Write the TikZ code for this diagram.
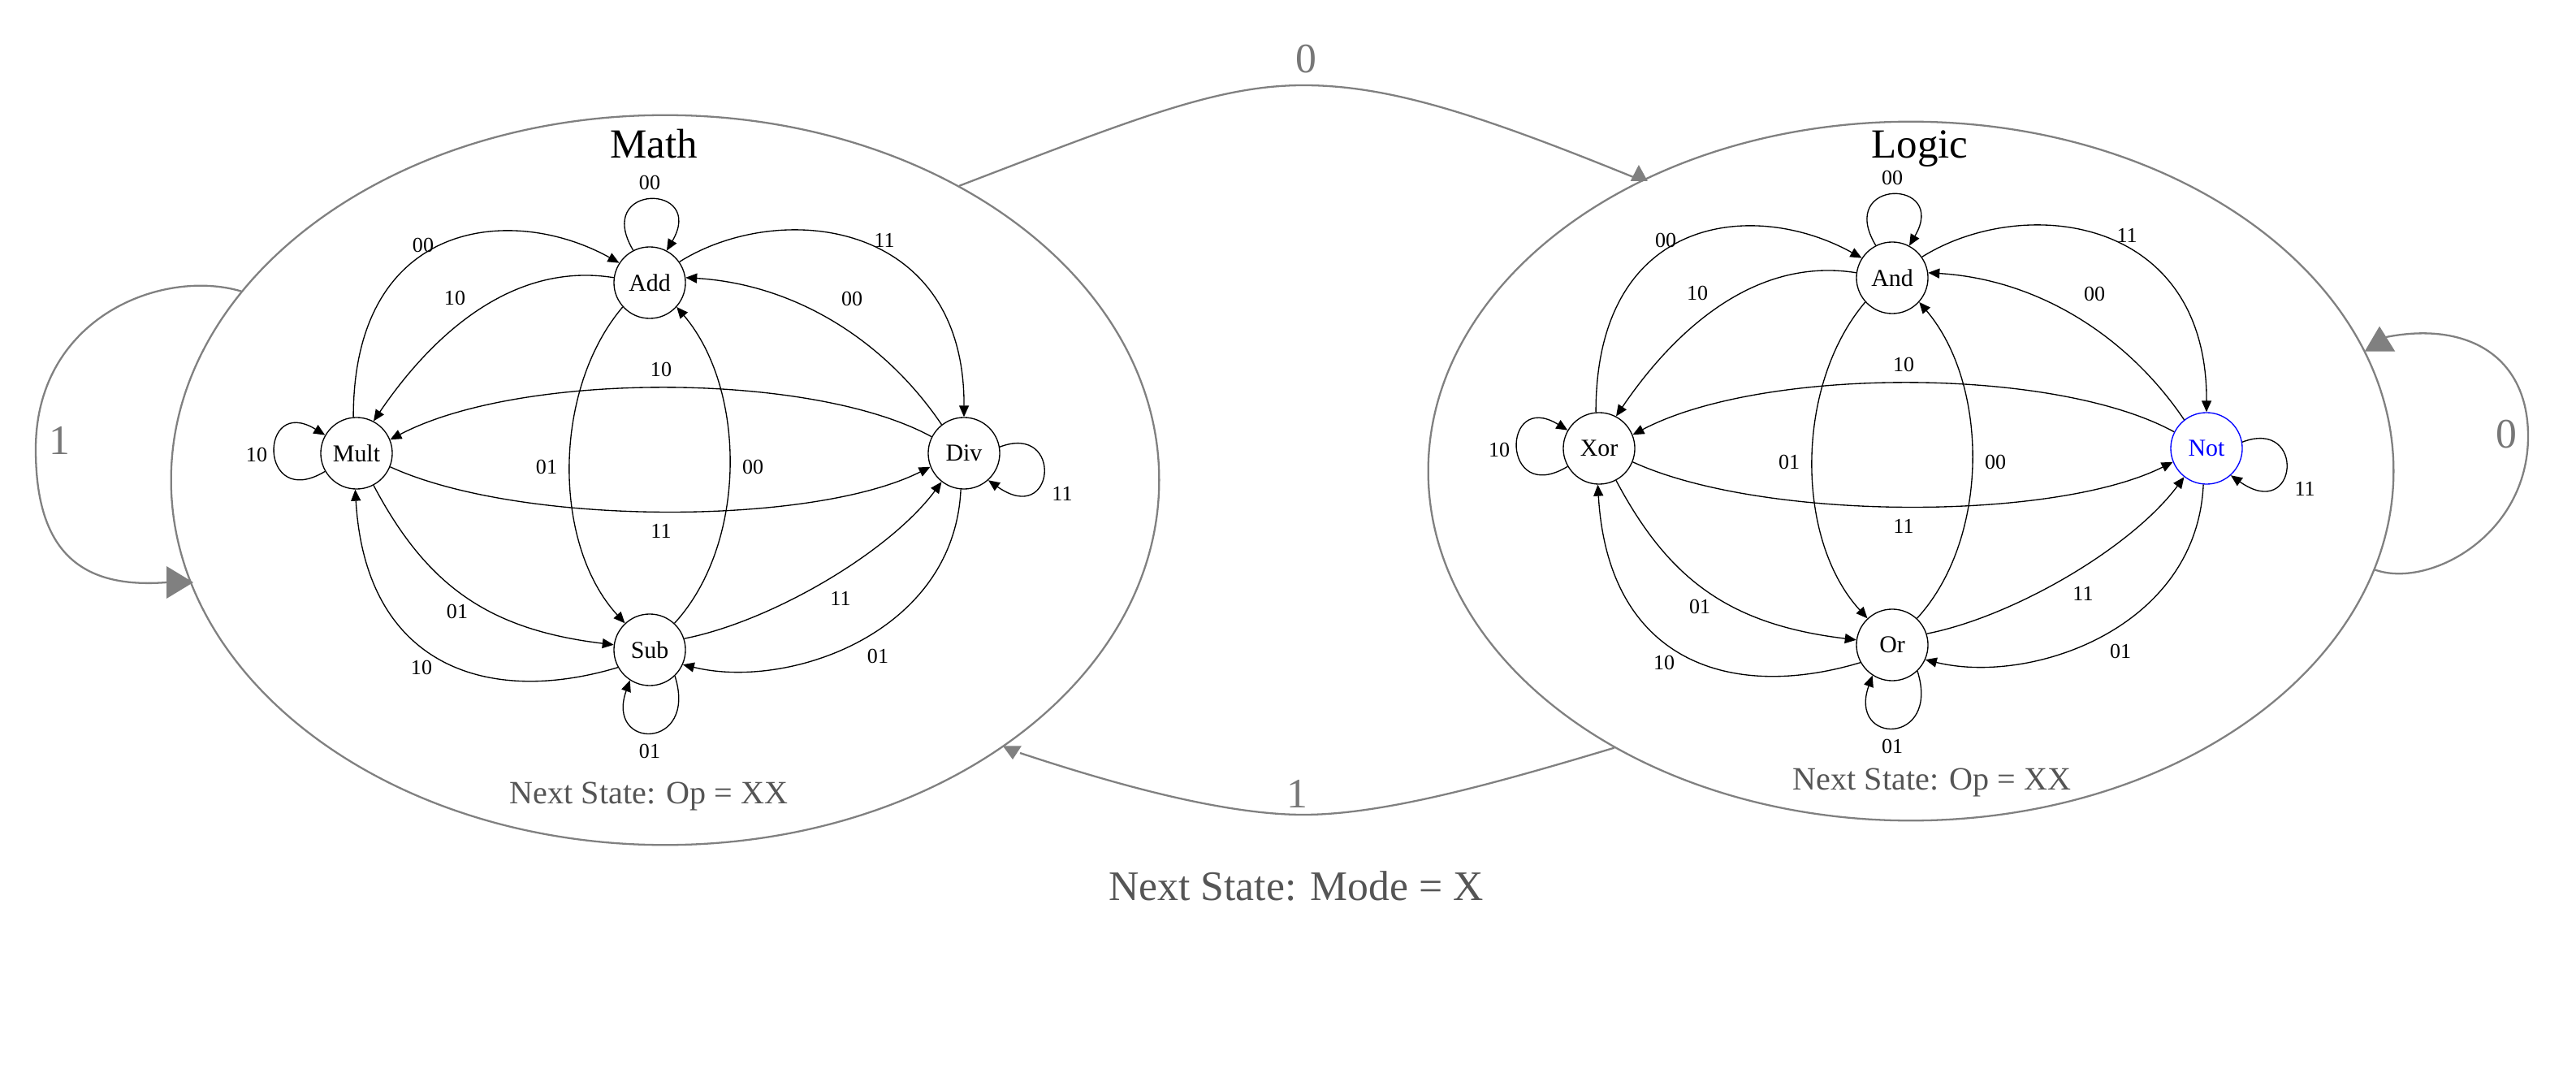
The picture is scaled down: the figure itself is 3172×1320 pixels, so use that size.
\documentclass[tikz,border=0pt]{standalone}
\usepackage{fontspec}
\setmainfont{Liberation Serif}
\usetikzlibrary{arrows.meta,shapes.geometric}
\definecolor{outergray}{HTML}{808080}
\definecolor{txtgray}{HTML}{555555}
\definecolor{numgray}{HTML}{777777}
\tikzset{
 fsmstate/.style={circle,draw=black,line width=0.38pt,minimum size=0.88cm,inner sep=0pt,font=\fontsize{8.5}{10}\selectfont},
 fsmedge/.style={draw=black,line width=0.38pt,-{Triangle[length=1.4mm,width=1.2mm]}},
 lbl/.style={inner sep=0pt,font=\fontsize{7.4}{9}\selectfont},
 outerell/.style={ellipse,draw=outergray,line width=0.65pt,inner sep=0pt},
 outerline/.style={draw=outergray,line width=0.65pt},
 tipfill/.style={fill=outergray},
 bignum/.style={text=numgray,inner sep=0pt,font=\fontsize{14.7}{17}\selectfont},
 clustertitle/.style={inner sep=0pt,anchor=base,font=\fontsize{14.5}{17}\selectfont},
 nextop/.style={text=txtgray,inner sep=0pt,anchor=base,font=\fontsize{11.4}{13}\selectfont},
 nextmode/.style={text=txtgray,inner sep=0pt,anchor=base,font=\fontsize{14.7}{17}\selectfont},
}
% #1 prefix, #2 top, #3 left, #4 right, #5 bottom, #6 extra style of right node
\newcommand\clusterfsm[6]{%
  \node[fsmstate] (#1A) at (800,972) {#2};
  \node[fsmstate] (#1M) at (439,762) {#3};
  \node[fsmstate,#6] (#1D) at (1187,762) {#4};
  \node[fsmstate] (#1S) at (800,520) {#5};
  % self loops
  \draw[fsmedge] (#1A.117) .. controls (730,1095) and (870,1095) .. (#1A.62);
  \draw[fsmedge] (#1M.210) .. controls (318,690) and (318,835) .. (#1M.150);
  \draw[fsmedge] (#1D.10) .. controls (1310,800) and (1300,670) .. (#1D.-48);
  \draw[fsmedge] (#1S.-46) .. controls (860,396) and (745,396) .. (#1S.237);
  % edges
  \draw[fsmedge] (#1M.95) .. controls (435,1050) and (630,1070) .. (#1A.147);
  \draw[fsmedge] (#1A.172) .. controls (620,1000) and (520,890) .. (#1M.62);
  \draw[fsmedge] (#1A.35) .. controls (960,1075) and (1188,1050) .. (#1D.90);
  \draw[fsmedge] (#1D.128) .. controls (1090,900) and (980,970) .. (#1A.8);
  \draw[fsmedge] (#1D.153) .. controls (1000,863) and (640,863) .. (#1M.22);
  \draw[fsmedge] (#1M.-22) .. controls (640,672) and (1000,672) .. (#1D.202);
  \draw[fsmedge] (#1A.222) .. controls (680,840) and (680,650) .. (#1S.133);
  \draw[fsmedge] (#1S.47) .. controls (920,650) and (920,840) .. (#1A.-42);
  \draw[fsmedge] (#1M.-62) .. controls (525,600) and (600,545) .. (#1S.172);
  \draw[fsmedge] (#1S.209) .. controls (600,450) and (450,500) .. (#1M.268);
  \draw[fsmedge] (#1S.18) .. controls (950,555) and (1095,640) .. (#1D.232);
  \draw[fsmedge] (#1D.265) .. controls (1175,540) and (970,470) .. (#1S.-24);
  % labels
  \node[lbl] (#1e1) at (800,1095) {00};
  \node[lbl] (#1e2) at (521,1018) {00};
  \node[lbl] (#1e3) at (560,953) {10};
  \node[lbl] (#1e4) at (1089,1024) {11};
  \node[lbl] (#1e5) at (1049,952) {00};
  \node[lbl] (#1e6) at (814,865) {10};
  \node[lbl] (#1e7) at (814,666) {11};
  \node[lbl] (#1e8) at (673,745) {01};
  \node[lbl] (#1e9) at (927,745) {00};
  \node[lbl] (#1e10) at (563,567) {01};
  \node[lbl] (#1e11) at (519,498) {10};
  \node[lbl] (#1e12) at (1035,583) {11};
  \node[lbl] (#1e13) at (1081,512) {01};
  \node[lbl] (#1e14) at (316,760) {10};
  \node[lbl] (#1e15) at (1308,712) {11};
  \node[lbl] (#1e16) at (800,395) {01};
}
\begin{document}
\begin{tikzpicture}[x=0.01cm,y=0.01cm]
\useasboundingbox (0,0) rectangle (3172,1320);
% outer ellipses
\node[outerell,minimum width=12.16cm,minimum height=8.98cm] (math) at (819,729) {};
\node[outerell,minimum width=11.88cm,minimum height=8.6cm] (logic) at (2353,740) {};
% clusters
\begin{scope}
\clusterfsm{m}{Add}{Mult}{Div}{Sub}{}
\end{scope}
\begin{scope}[shift={(1530,6)}]
\clusterfsm{l}{And}{Xor}{Not}{Or}{draw=blue,text=blue}
\end{scope}
% titles
\node[clustertitle] (mtitle) at (805,1125) {Math};
\node[clustertitle] (ltitle) at (2364,1125) {Logic};
\node[nextop] (mnext) at (799,331) {Next State: Op = XX};
\node[nextop] (lnext) at (2379,348) {Next State: Op = XX};
\node[nextmode] (mode) at (1596,212) {Next State: Mode = X};
% outer connectors
\coordinate (ttip) at (2021,1098);
\coordinate (btip) at (1256,393);
\coordinate (lltip) at (205,603);
\coordinate (rltip) at (2938,905);
\draw[outerline] (math.45) .. controls (1400,1175) and (1500,1215) .. (1605,1215)
   .. controls (1710,1215) and (1820,1180) .. (ttip);
\fill[tipfill] (2007.6,1097) -- (2028.8,1097) -- (2017.9,1117) -- cycle;
\draw[outerline] (logic.223.4) .. controls (1830,352) and (1700,317) .. (1605,317)
   .. controls (1510,317) and (1380,352) .. (btip);
\fill[tipfill] (1234.8,401.7) -- (1257.9,401.7) -- (1247,385) -- cycle;
\draw[outerline] (math.156.5) .. controls (200,990) and (44,930) .. (44,767)
   .. controls (44,640) and (100,595) .. (lltip);
\fill[tipfill] (205,623) -- (205,583) -- (238,603) -- cycle;
\draw[outerline] (logic.-12.2) .. controls (2990,595) and (3113,660) .. (3113,783)
   .. controls (3113,880) and (3040,925) .. (rltip);
\fill[tipfill] (2911.7,887.3) -- (2949.3,887.3) -- (2930,918.3) -- cycle;
% outer labels
\node[bignum] (n0top) at (1608,1247) {0};
\node[bignum] (n1bot) at (1597,343) {1};
\node[bignum] (n1left) at (73,778) {1};
\node[bignum] (n0right) at (3086,785) {0};
\end{tikzpicture}
\end{document}
